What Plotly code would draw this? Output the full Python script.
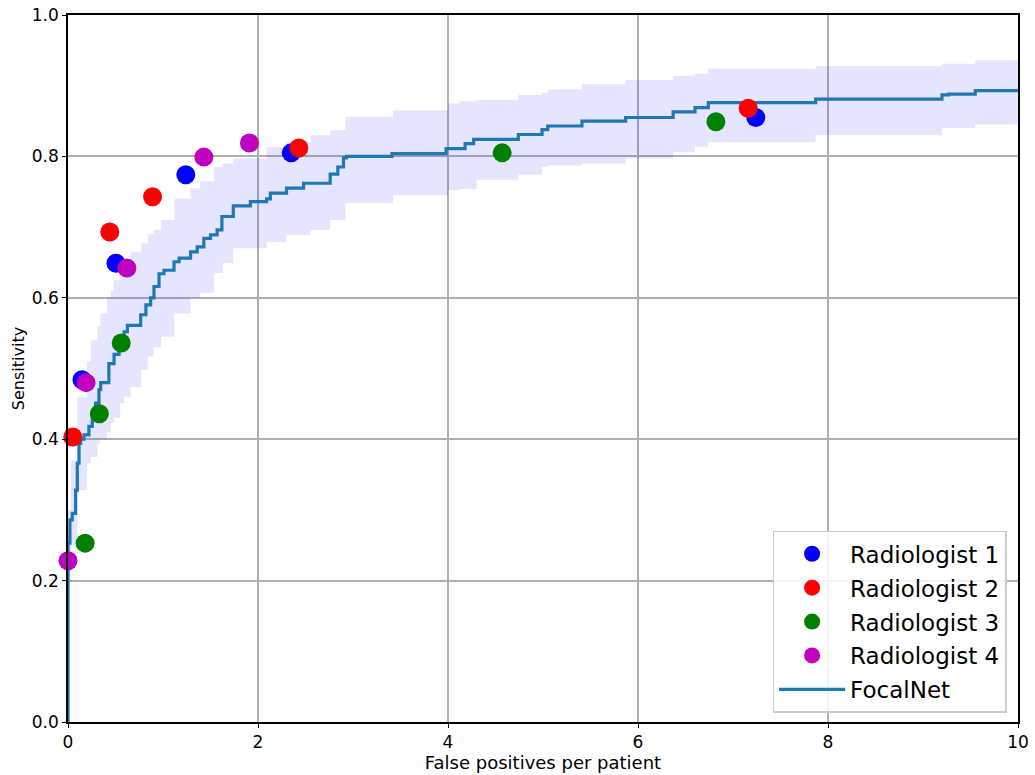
import plotly.graph_objects as go

# FocalNet FROC curve (step)
focal_fp = [0, 0, 0.02, 0.045, 0.08, 0.098, 0.116, 0.133, 0.168, 0.22, 0.256, 0.29, 0.326, 0.344,
            0.43, 0.485, 0.537, 0.59, 0.625, 0.765, 0.82, 0.87, 0.905, 0.958, 1.01, 1.116, 1.17,
            1.29, 1.36, 1.43, 1.5, 1.57, 1.62, 1.74, 1.92, 2.09, 2.13, 2.3, 2.48, 2.76, 2.84, 2.9,
            2.93, 3.41, 3.98, 4.18, 4.27, 4.74, 4.99, 5.05, 5.41, 5.87, 6.37, 6.6, 6.74, 7.87, 9.2,
            9.27, 9.55, 10]
focal_sens = [0, 0.253, 0.286, 0.295, 0.328, 0.366, 0.394, 0.40, 0.406, 0.418, 0.432, 0.451, 0.47,
              0.48, 0.507, 0.52, 0.536, 0.552, 0.561, 0.576, 0.59, 0.60, 0.616, 0.634, 0.639, 0.651,
              0.656, 0.665, 0.672, 0.684, 0.689, 0.696, 0.715, 0.73, 0.736, 0.74, 0.748, 0.755, 0.762,
              0.775, 0.785, 0.798, 0.80, 0.804, 0.811, 0.818, 0.824, 0.831, 0.838, 0.843, 0.85, 0.855,
              0.863, 0.869, 0.876, 0.881, 0.887, 0.888, 0.893, 0.893]

# Confidence band
band_fp = [0, 0.03, 0.1, 0.2, 0.24, 0.31, 0.34, 0.41, 0.45, 0.48, 0.55, 0.59, 0.66, 0.77, 0.84, 0.9,
           0.98, 1.12, 1.29, 1.39, 1.54, 1.63, 1.74, 2.09, 2.3, 2.55, 2.76, 2.92, 3.42, 4.0, 4.12, 4.3,
           4.74, 4.99, 5.05, 5.41, 5.87, 6.37, 6.6, 6.74, 7.87, 9.2, 9.55, 10]
band_lo = [0.2, 0.25, 0.328, 0.366, 0.375, 0.394, 0.40, 0.41, 0.423, 0.43, 0.451, 0.46, 0.474, 0.498,
           0.517, 0.53, 0.545, 0.578, 0.60, 0.607, 0.635, 0.649, 0.67, 0.679, 0.689, 0.696, 0.71,
           0.734, 0.745, 0.752, 0.754, 0.767, 0.774, 0.785, 0.787, 0.79, 0.797, 0.806, 0.814, 0.82,
           0.83, 0.84, 0.845, 0.845]
band_hi = [0.30, 0.37, 0.46, 0.51, 0.54, 0.56, 0.578, 0.60, 0.61, 0.625, 0.64, 0.653, 0.665, 0.677,
           0.69, 0.696, 0.71, 0.74, 0.755, 0.765, 0.785, 0.79, 0.797, 0.813, 0.82, 0.83, 0.837, 0.856,
           0.865, 0.875, 0.878, 0.88, 0.887, 0.89, 0.895, 0.902, 0.908, 0.914, 0.917, 0.924, 0.928,
           0.931, 0.936, 0.936]

# Radiologist operating points
rad_names = ["Radiologist 1", "Radiologist 2", "Radiologist 3", "Radiologist 4"]
rad_colors = ["#0000ff", "#ff0000", "#008000", "#bf00bf"]
rad1_fp = [0.147, 0.505, 1.24, 2.35, 7.24]
rad1_sens = [0.484, 0.649, 0.774, 0.805, 0.855]
rad2_fp = [0.05, 0.44, 0.89, 2.43, 7.16]
rad2_sens = [0.403, 0.693, 0.743, 0.812, 0.868]
rad3_fp = [0.18, 0.33, 0.56, 4.57, 6.82]
rad3_sens = [0.253, 0.436, 0.536, 0.805, 0.849]
rad4_fp = [0.0, 0.19, 0.62, 1.43, 1.91]
rad4_sens = [0.228, 0.48, 0.642, 0.799, 0.819]

x_ticks = [0, 2, 4, 6, 8, 10]
y_ticks = [0.0, 0.2, 0.4, 0.6, 0.8, 1.0]
y_tick_labels = ["0.0", "0.2", "0.4", "0.6", "0.8", "1.0"]

fig = go.Figure()

fig.add_trace(go.Scatter(x=band_fp, y=band_lo, mode="lines", line=dict(width=0, shape="hv"),
                         showlegend=False, hoverinfo="skip"))
fig.add_trace(go.Scatter(x=band_fp, y=band_hi, mode="lines", line=dict(width=0, shape="hv"),
                         fill="tonexty", fillcolor="rgba(0,0,255,0.1)",
                         showlegend=False, hoverinfo="skip"))

fig.add_trace(go.Scatter(x=focal_fp, y=focal_sens, mode="lines", name="FocalNet",
                         line=dict(color="#1f77b4", width=3.2, shape="hv"),
                         legendrank=5, legendgroup="g5"))

for i, (fx, sy) in enumerate([(rad1_fp, rad1_sens), (rad2_fp, rad2_sens),
                              (rad3_fp, rad3_sens), (rad4_fp, rad4_sens)]):
    fig.add_trace(go.Scatter(x=fx, y=sy, mode="markers", name=rad_names[i],
                             marker=dict(color=rad_colors[i], size=19, line=dict(width=0)),
                             legendrank=i + 1, legendgroup="g%d" % (i + 1), cliponaxis=False))

axis_common = dict(showline=True, linecolor="black", linewidth=1.5, mirror=True,
                   showgrid=True, gridcolor="#b0b0b0", gridwidth=1.5, zeroline=False,
                   ticks="outside", ticklen=4, tickwidth=1.2, tickcolor="black", automargin=False,
                   ticklabeloverflow="allow",
                   tickfont=dict(family="DejaVu Sans", size=17, color="black"))

fig.update_layout(
    width=1035, height=775,
    margin=dict(l=68, r=17, t=15, b=53),
    paper_bgcolor="white", plot_bgcolor="white",
    font=dict(family="DejaVu Sans", color="black"),
    xaxis=dict(range=[0, 10], tickvals=x_ticks,
               title=dict(text="False positives per patient", font=dict(size=18), standoff=2),
               **axis_common),
    yaxis=dict(range=[0, 1.0], tickvals=y_ticks, ticktext=y_tick_labels,
               title=dict(text="Sensitivity", font=dict(size=16), standoff=3),
               **axis_common),
    legend=dict(x=0.988, y=0.013, xanchor="right", yanchor="bottom",
                bgcolor="rgba(255,255,255,0.85)", bordercolor="#cccccc", borderwidth=1.5,
                font=dict(family="DejaVu Sans", size=23, color="black"),
                traceorder="grouped", tracegroupgap=1, itemwidth=66),
    showlegend=True,
)

fig.write_html("out.html", config={"displayModeBar": False},
               post_script="document.body.style.margin='0';")
